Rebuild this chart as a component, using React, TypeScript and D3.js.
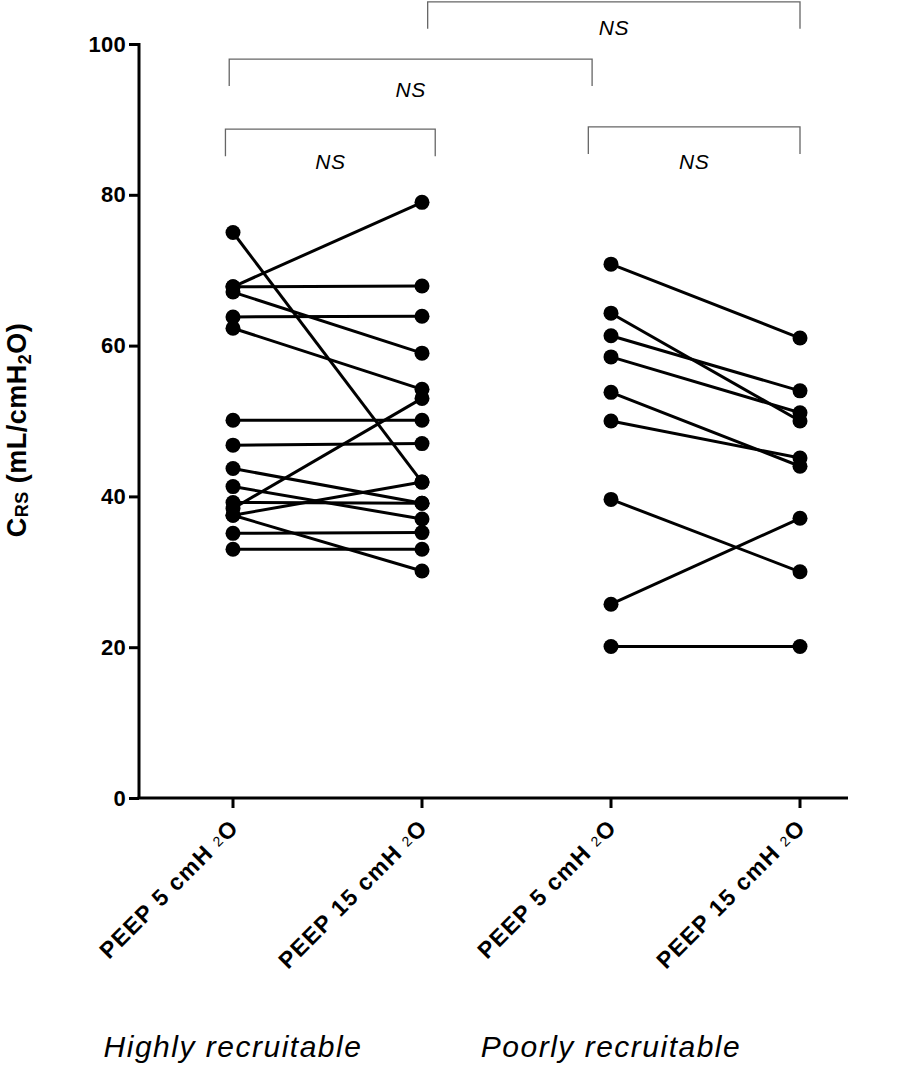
import React, { useEffect, useRef } from 'react';
import * as d3 from 'd3';

// x positions (category index) of the four columns
const categories = ['PEEP 5 cmH', 'PEEP 15 cmH', 'PEEP 5 cmH', 'PEEP 15 cmH'];
const groupLabels = ['Highly recruitable', 'Poorly recruitable'];
const yTicks = [0, 20, 40, 60, 80, 100];

// paired values per patient, C_RS (mL/cmH2O)
const highPeep5 = [75.0, 67.8, 67.8, 67.1, 63.8, 62.3, 50.1, 46.8, 43.7, 41.3, 39.2, 38.4, 37.5, 37.5, 35.1, 33.0];
const highPeep15 = [41.9, 79.0, 67.9, 59.0, 63.9, 54.2, 50.1, 47.0, 39.1, 37.0, 39.1, 53.0, 41.9, 30.1, 35.2, 33.0];
const poorPeep5 = [70.8, 64.3, 61.3, 58.5, 53.8, 50.0, 39.6, 25.7, 20.1];
const poorPeep15 = [61.0, 50.0, 54.0, 51.1, 44.0, 45.1, 30.0, 37.1, 20.1];

// significance brackets: ends in category units, heights in y units
const bracketFrom = [1.03, -0.02, -0.04, 1.88];
const bracketTo = [3.0, 1.9, 1.07, 3.0];
const bracketTop = [105.6, 98.0, 88.7, 89.0];
const bracketLabelAt = [101.2, 93.0, 83.4, 83.4];
const bracketLabels = ['NS', 'NS', 'NS', 'NS'];

const FONT = '"Liberation Sans", Arial, Helvetica, sans-serif';

export default function App() {
  const svgRef = useRef<SVGSVGElement>(null);

  useEffect(() => {
    if (!svgRef.current) return;
    const svg = d3.select(svgRef.current);
    svg.selectAll('*').remove();

    const x = d3.scaleLinear().domain([0, 3]).range([233, 800]);
    const y = d3.scaleLinear().domain([0, 100]).range([798, 44]);
    const axisX = 139;

    // Y axis
    const yAxis = svg.append('g')
      .attr('transform', `translate(${axisX},0)`)
      .call(d3.axisLeft(y).tickValues(yTicks).tickSize(10).tickSizeOuter(0).tickPadding(3));
    yAxis.select('.domain').attr('stroke', '#000').attr('stroke-width', 3).attr('d', `M0,${y(100) - 1}V${y(0)}`);
    yAxis.selectAll('.tick line').attr('stroke', '#000').attr('stroke-width', 3);
    yAxis.selectAll('.tick text')
      .attr('fill', '#000')
      .style('font-family', FONT)
      .style('font-size', '22px')
      .style('font-weight', 'bold')
      .style('letter-spacing', '0.3px');

    // X axis line + ticks
    svg.append('line')
      .attr('x1', axisX - 1.5).attr('x2', 848)
      .attr('y1', y(0)).attr('y2', y(0))
      .attr('stroke', '#000').attr('stroke-width', 3);
    svg.selectAll('.xtick')
      .data(categories)
      .enter()
      .append('line')
      .attr('class', 'xtick')
      .attr('x1', (_, i) => x(i)).attr('x2', (_, i) => x(i))
      .attr('y1', y(0)).attr('y2', y(0) + 10)
      .attr('stroke', '#000').attr('stroke-width', 3);

    // X tick labels, rotated
    const lab = svg.selectAll('.xlab')
      .data(categories)
      .enter()
      .append('text')
      .attr('class', 'xlab')
      .attr('transform', (_, i) => `translate(${x(i) + 7},${y(0) + 31}) rotate(-45)`)
      .attr('text-anchor', 'end')
      .style('font-family', FONT)
      .style('font-size', '23px')
      .style('font-weight', 'bold')
      .style('letter-spacing', '1.3px');
    lab.append('tspan').text(d => d + ' ');
    lab.append('tspan').text('2').style('font-size', '14px').style('font-weight', 'normal').attr('dy', -2);
    lab.append('tspan').text('O').attr('dy', 2);

    // Y axis title
    const title = svg.append('text')
      .attr('transform', 'translate(26,430) rotate(-90)')
      .attr('text-anchor', 'middle')
      .style('font-family', FONT)
      .style('font-size', '27px')
      .style('font-weight', 'bold')
      .style('letter-spacing', '0.5px');
    title.append('tspan').text('C');
    title.append('tspan').text('RS').style('font-size', '18px').attr('dy', 2);
    title.append('tspan').text(' (mL/cmH').attr('dy', -2);
    title.append('tspan').text('2').style('font-size', '18px').attr('dy', 5);
    title.append('tspan').text('O)').attr('dy', -5);

    // Paired lines and points
    const pairs = [
      { a: 0, b: 1, v1: highPeep5, v2: highPeep15 },
      { a: 2, b: 3, v1: poorPeep5, v2: poorPeep15 },
    ];
    pairs.forEach(p => {
      const g = svg.append('g');
      g.selectAll('line')
        .data(p.v1)
        .enter()
        .append('line')
        .attr('x1', x(p.a)).attr('x2', x(p.b))
        .attr('y1', d => y(d)).attr('y2', (_, i) => y(p.v2[i]))
        .attr('stroke', '#000').attr('stroke-width', 3);
      g.selectAll('.c1')
        .data(p.v1)
        .enter()
        .append('circle')
        .attr('class', 'c1')
        .attr('cx', x(p.a)).attr('cy', d => y(d)).attr('r', 7.5).attr('fill', '#000');
      g.selectAll('.c2')
        .data(p.v2)
        .enter()
        .append('circle')
        .attr('class', 'c2')
        .attr('cx', x(p.b)).attr('cy', d => y(d)).attr('r', 7.5).attr('fill', '#000');
    });

    // Brackets
    bracketLabels.forEach((t, i) => {
      const x1 = x(bracketFrom[i]);
      const x2 = x(bracketTo[i]);
      const top = y(bracketTop[i]);
      svg.append('path')
        .attr('d', `M${x1},${top + 27}V${top}H${x2}V${top + 27}`)
        .attr('fill', 'none')
        .attr('stroke', '#666')
        .attr('stroke-width', 1.3);
      svg.append('text')
        .attr('x', (x1 + x2) / 2)
        .attr('y', y(bracketLabelAt[i]))
        .attr('text-anchor', 'middle')
        .style('font-family', FONT)
        .style('font-size', '21px')
        .style('font-style', 'italic')
        .style('letter-spacing', '0.5px')
        .text(t);
    });

    // Group labels
    svg.selectAll('.group')
      .data(groupLabels)
      .enter()
      .append('text')
      .attr('class', 'group')
      .attr('x', (_, i) => x(i * 2))
      .attr('y', 1057)
      .attr('text-anchor', 'middle')
      .style('font-family', FONT)
      .style('font-size', '30px')
      .style('font-style', 'italic')
      .style('letter-spacing', '1.5px')
      .text(d => d);
  }, []);

  return (
    <svg
      ref={svgRef}
      width={898}
      height={1070}
      style={{ position: 'absolute', left: 0, top: 0, background: '#fff' }}
    />
  );
}
